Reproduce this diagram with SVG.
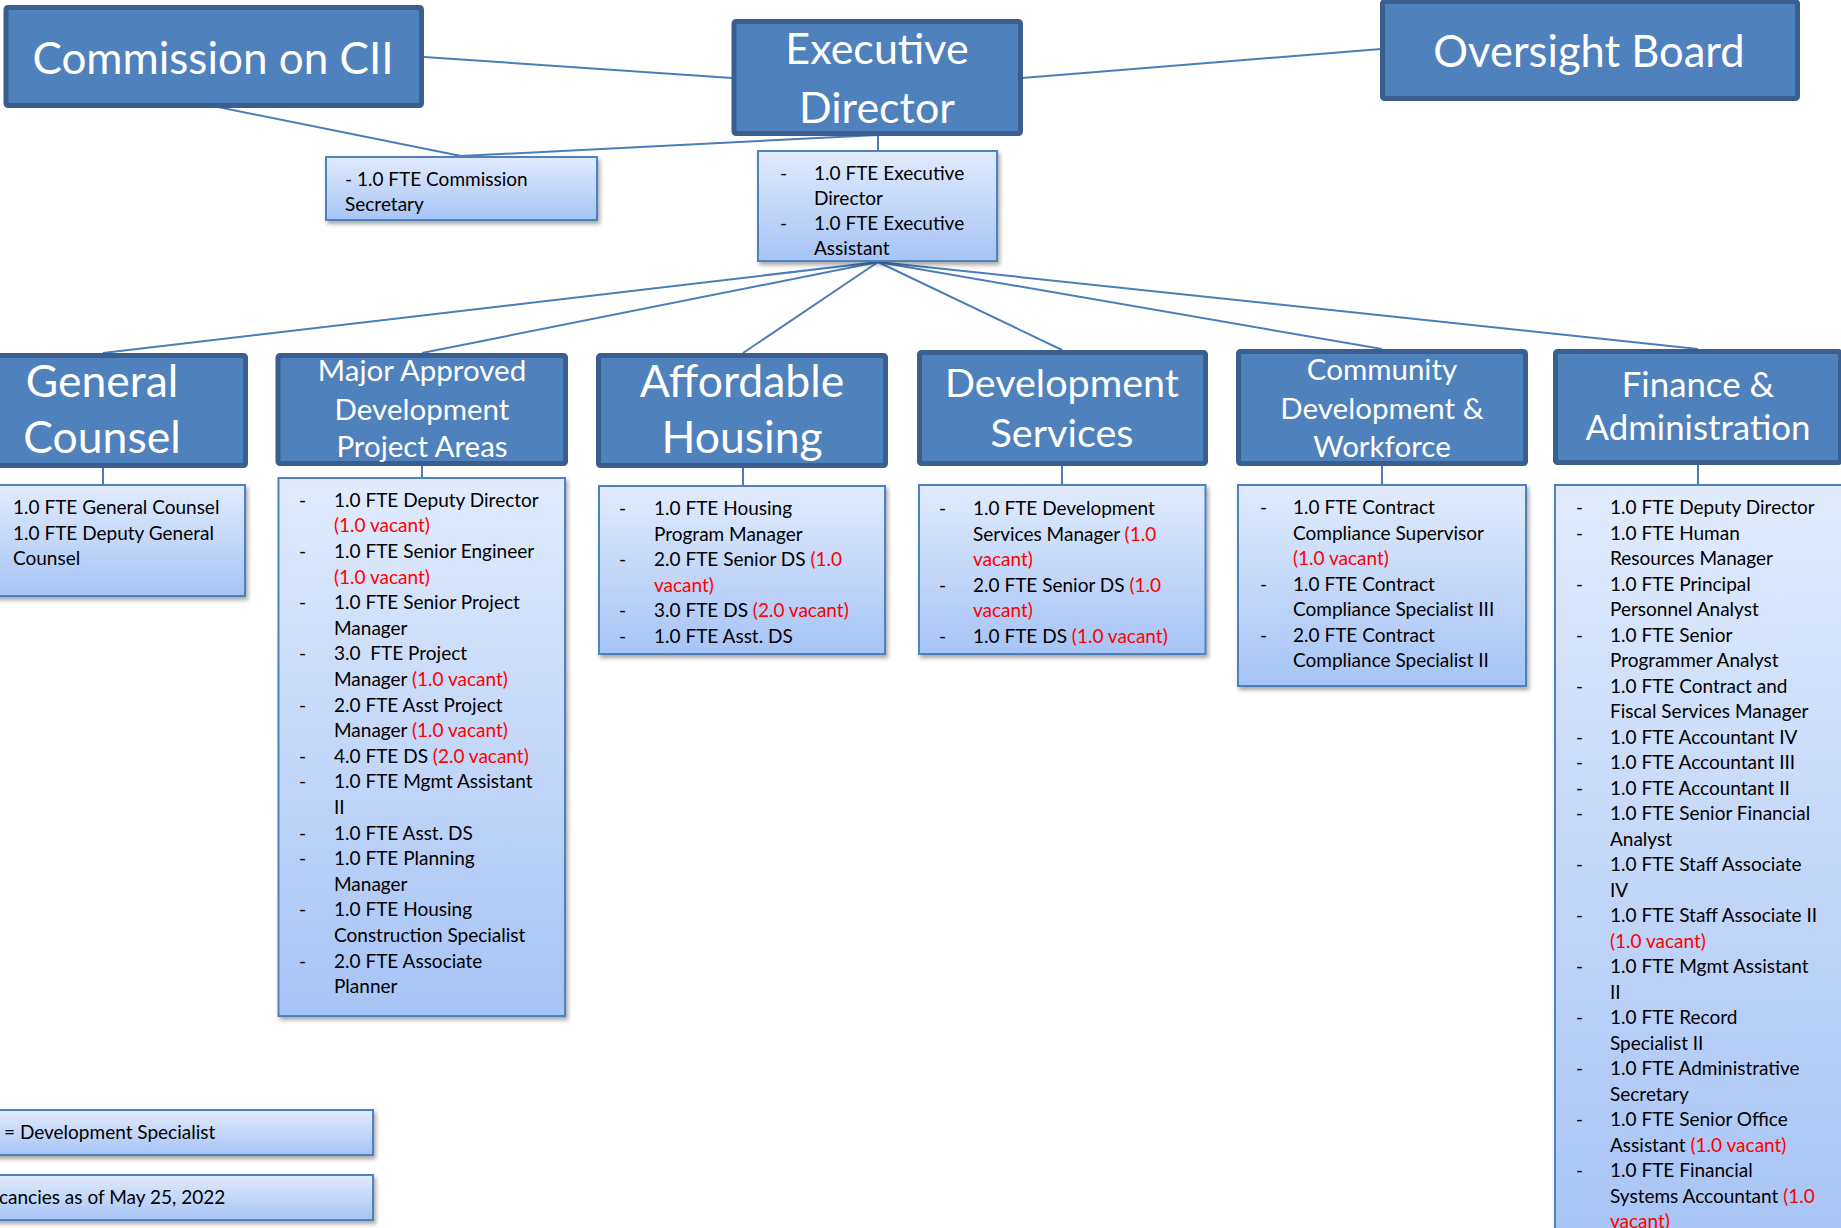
<svg xmlns="http://www.w3.org/2000/svg" width="1841" height="1228" viewBox="0 0 1841 1228">
<defs>
<linearGradient id="sg" x1="0" y1="0" x2="0" y2="1">
<stop offset="0" stop-color="#e1ebfc"/>
<stop offset="1" stop-color="#a6c4f6"/>
</linearGradient>
<filter id="sh" x="-10%" y="-10%" width="130%" height="130%">
<feDropShadow dx="2" dy="3" stdDeviation="2" flood-color="#000" flood-opacity="0.35"/>
</filter>
<style>
.d{fill:#4f81bd;stroke:#3a5f8e;stroke-width:5}
.s{fill:url(#sg);stroke:#4f81bd;stroke-width:2;filter:url(#sh)}
.c{stroke:#4a7ebb;stroke-width:2;fill:none}
.t{font-family:Lato,"Liberation Sans",sans-serif;fill:#fff;text-anchor:middle}
.b{font-family:Lato,"Liberation Sans",sans-serif;font-size:19px;fill:#000}
.r{fill:#ff0000}
</style>
</defs>
<rect width="1841" height="1228" fill="#fff"/>
<g id="connectors">
<line class="c" x1="424" y1="57" x2="732" y2="78"/>
<line class="c" x1="1022" y1="78" x2="1381" y2="49"/>
<line class="c" x1="213" y1="106" x2="461" y2="156"/>
<line class="c" x1="461" y1="156" x2="878" y2="135"/>
<line class="c" x1="878" y1="136" x2="878" y2="150"/>
<line class="c" x1="878" y1="262" x2="103" y2="353"/>
<line class="c" x1="878" y1="262" x2="422" y2="353"/>
<line class="c" x1="878" y1="262" x2="743" y2="353"/>
<line class="c" x1="878" y1="262" x2="1062" y2="350"/>
<line class="c" x1="878" y1="262" x2="1382" y2="349"/>
<line class="c" x1="878" y1="262" x2="1698" y2="349"/>
<line class="c" x1="103" y1="468" x2="103" y2="484"/>
<line class="c" x1="422" y1="466" x2="422" y2="477"/>
<line class="c" x1="743" y1="468" x2="743" y2="485"/>
<line class="c" x1="1062" y1="466" x2="1062" y2="484"/>
<line class="c" x1="1382" y1="466" x2="1382" y2="484"/>
<line class="c" x1="1698" y1="465" x2="1698" y2="484"/>
</g>
<g id="commission">
<rect class="d" x="6" y="7.5" width="415.5" height="98" rx="2"/>
<text class="t" x="213" y="74" font-size="44">Commission on CII</text>
</g>
<g id="executive-director">
<rect class="d" x="734" y="21.5" width="286.5" height="112" rx="2"/>
<text class="t" x="877" y="64" font-size="43">Executive</text>
<text class="t" x="877" y="123" font-size="43">Director</text>
</g>
<g id="oversight-board">
<rect class="d" x="1382.5" y="1.5" width="415" height="97" rx="2"/>
<text class="t" x="1589" y="67" font-size="43.5">Oversight Board</text>
</g>
<g id="commission-secretary">
<rect class="s" x="326" y="157" width="271" height="63"/>
<text class="b" x="345" y="186">- 1.0 FTE Commission</text>
<text class="b" x="345" y="211">Secretary</text>
</g>
<g id="executive-staff">
<rect class="s" x="758" y="151" width="239" height="110"/>
<text class="b" x="780" y="180">-</text><text class="b" x="814" y="180">1.0 FTE Executive</text>
<text class="b" x="814" y="205">Director</text>
<text class="b" x="780" y="230">-</text><text class="b" x="814" y="230">1.0 FTE Executive</text>
<text class="b" x="814" y="255">Assistant</text>
</g>
<g id="general-counsel">
<rect class="d" x="-41.5" y="355.5" width="287" height="110" rx="2"/>
<text class="t" x="102" y="397" font-size="44.5">General</text>
<text class="t" x="102" y="453" font-size="44.5">Counsel</text>
</g>
<g id="general-counsel-staff">
<rect class="s" x="-10" y="485" width="255" height="111"/>
<text class="b" x="13" y="514">1.0 FTE General Counsel</text>
<text class="b" x="13" y="540">1.0 FTE Deputy General</text>
<text class="b" x="13" y="565">Counsel</text>
</g>
<g id="major-approved">
<rect class="d" x="278" y="355.5" width="287.5" height="108" rx="2"/>
<text class="t" x="422" y="380.5" font-size="29.5">Major Approved</text>
<text class="t" x="422" y="419.5" font-size="29.5">Development</text>
<text class="t" x="422" y="457" font-size="29.5">Project Areas</text>
</g>
<g id="major-approved-staff">
<rect class="s" x="278.5" y="478" width="286.5" height="538"/>
<g class="b">
<text x="299" y="506.7">-</text><text x="334" y="506.7">1.0 FTE Deputy Director</text>
<text x="334" y="532.3" class="r">(1.0 vacant)</text>
<text x="299" y="557.9">-</text><text x="334" y="557.9">1.0 FTE Senior Engineer</text>
<text x="334" y="583.5" class="r">(1.0 vacant)</text>
<text x="299" y="609.1">-</text><text x="334" y="609.1">1.0 FTE Senior Project</text>
<text x="334" y="634.7">Manager</text>
<text x="299" y="660.3">-</text><text x="334" y="660.3" xml:space="preserve">3.0  FTE Project</text>
<text x="334" y="685.9">Manager <tspan class="r">(1.0 vacant)</tspan></text>
<text x="299" y="711.5">-</text><text x="334" y="711.5">2.0 FTE Asst Project</text>
<text x="334" y="737.1">Manager <tspan class="r">(1.0 vacant)</tspan></text>
<text x="299" y="762.7">-</text><text x="334" y="762.7">4.0 FTE DS <tspan class="r">(2.0 vacant)</tspan></text>
<text x="299" y="788.3">-</text><text x="334" y="788.3">1.0 FTE Mgmt Assistant</text>
<text x="334" y="813.9">II</text>
<text x="299" y="839.5">-</text><text x="334" y="839.5">1.0 FTE Asst. DS</text>
<text x="299" y="865.1">-</text><text x="334" y="865.1">1.0 FTE Planning</text>
<text x="334" y="890.7">Manager</text>
<text x="299" y="916.3">-</text><text x="334" y="916.3">1.0 FTE Housing</text>
<text x="334" y="941.9">Construction Specialist</text>
<text x="299" y="967.5">-</text><text x="334" y="967.5">2.0 FTE Associate</text>
<text x="334" y="993.1">Planner</text>
</g>
</g>
<g id="affordable-housing">
<rect class="d" x="598.5" y="355.5" width="287" height="110" rx="2"/>
<text class="t" x="742" y="397" font-size="44.5">Affordable</text>
<text class="t" x="742" y="453" font-size="44.5">Housing</text>
</g>
<g id="affordable-housing-staff">
<rect class="s" x="599" y="486" width="286" height="168"/>
<g class="b">
<text x="619" y="515">-</text><text x="654" y="515">1.0 FTE Housing</text>
<text x="654" y="540.5">Program Manager</text>
<text x="619" y="566">-</text><text x="654" y="566">2.0 FTE Senior DS <tspan class="r">(1.0</tspan></text>
<text x="654" y="591.5" class="r">vacant)</text>
<text x="619" y="617">-</text><text x="654" y="617">3.0 FTE DS <tspan class="r">(2.0 vacant)</tspan></text>
<text x="619" y="642.5">-</text><text x="654" y="642.5">1.0 FTE Asst. DS</text>
</g>
</g>
<g id="development-services">
<rect class="d" x="919.5" y="352.5" width="286" height="111" rx="2"/>
<text class="t" x="1062" y="397" font-size="39.5">Development</text>
<text class="t" x="1062" y="447" font-size="39.5">Services</text>
</g>
<g id="development-services-staff">
<rect class="s" x="919" y="485" width="286.5" height="169"/>
<g class="b">
<text x="939" y="515">-</text><text x="973" y="515">1.0 FTE Development</text>
<text x="973" y="540.5">Services Manager <tspan class="r">(1.0</tspan></text>
<text x="973" y="566" class="r">vacant)</text>
<text x="939" y="591.5">-</text><text x="973" y="591.5">2.0 FTE Senior DS <tspan class="r">(1.0</tspan></text>
<text x="973" y="617" class="r">vacant)</text>
<text x="939" y="642.5">-</text><text x="973" y="642.5">1.0 FTE DS <tspan class="r">(1.0 vacant)</tspan></text>
</g>
</g>
<g id="community-development">
<rect class="d" x="1238.5" y="351.5" width="287" height="112" rx="2"/>
<text class="t" x="1382" y="380" font-size="29.5">Community</text>
<text class="t" x="1382" y="419" font-size="29.5">Development &amp;</text>
<text class="t" x="1382" y="457" font-size="29.5">Workforce</text>
</g>
<g id="community-development-staff">
<rect class="s" x="1238" y="485" width="288" height="201"/>
<g class="b">
<text x="1260" y="514">-</text><text x="1293" y="514">1.0 FTE Contract</text>
<text x="1293" y="539.5">Compliance Supervisor</text>
<text x="1293" y="565" class="r">(1.0 vacant)</text>
<text x="1260" y="590.5">-</text><text x="1293" y="590.5">1.0 FTE Contract</text>
<text x="1293" y="616">Compliance Specialist III</text>
<text x="1260" y="641.5">-</text><text x="1293" y="641.5">2.0 FTE Contract</text>
<text x="1293" y="667">Compliance Specialist II</text>
</g>
</g>
<g id="finance-administration">
<rect class="d" x="1555.5" y="351.5" width="285" height="111" rx="2"/>
<text class="t" x="1698" y="397" font-size="34.8">Finance &amp;</text>
<text class="t" x="1698" y="440" font-size="34.8">Administration</text>
</g>
<g id="finance-administration-staff">
<rect class="s" x="1555" y="485" width="300" height="760"/>
<g class="b">
<text x="1576" y="514">-</text><text x="1610" y="514">1.0 FTE Deputy Director</text>
<text x="1576" y="539.5">-</text><text x="1610" y="539.5">1.0 FTE Human</text>
<text x="1610" y="565">Resources Manager</text>
<text x="1576" y="590.5">-</text><text x="1610" y="590.5">1.0 FTE Principal</text>
<text x="1610" y="616">Personnel Analyst</text>
<text x="1576" y="641.5">-</text><text x="1610" y="641.5">1.0 FTE Senior</text>
<text x="1610" y="667">Programmer Analyst</text>
<text x="1576" y="692.5">-</text><text x="1610" y="692.5">1.0 FTE Contract and</text>
<text x="1610" y="718">Fiscal Services Manager</text>
<text x="1576" y="743.5">-</text><text x="1610" y="743.5">1.0 FTE Accountant IV</text>
<text x="1576" y="769">-</text><text x="1610" y="769">1.0 FTE Accountant III</text>
<text x="1576" y="794.5">-</text><text x="1610" y="794.5">1.0 FTE Accountant II</text>
<text x="1576" y="820">-</text><text x="1610" y="820">1.0 FTE Senior Financial</text>
<text x="1610" y="845.5">Analyst</text>
<text x="1576" y="871">-</text><text x="1610" y="871">1.0 FTE Staff Associate</text>
<text x="1610" y="896.5">IV</text>
<text x="1576" y="922">-</text><text x="1610" y="922">1.0 FTE Staff Associate II</text>
<text x="1610" y="947.5" class="r">(1.0 vacant)</text>
<text x="1576" y="973">-</text><text x="1610" y="973">1.0 FTE Mgmt Assistant</text>
<text x="1610" y="998.5">II</text>
<text x="1576" y="1024">-</text><text x="1610" y="1024">1.0 FTE Record</text>
<text x="1610" y="1049.5">Specialist II</text>
<text x="1576" y="1075">-</text><text x="1610" y="1075">1.0 FTE Administrative</text>
<text x="1610" y="1100.5">Secretary</text>
<text x="1576" y="1126">-</text><text x="1610" y="1126">1.0 FTE Senior Office</text>
<text x="1610" y="1151.5">Assistant <tspan class="r">(1.0 vacant)</tspan></text>
<text x="1576" y="1177">-</text><text x="1610" y="1177">1.0 FTE Financial</text>
<text x="1610" y="1202.5">Systems Accountant <tspan class="r">(1.0</tspan></text>
<text x="1610" y="1228" class="r">vacant)</text>
</g>
</g>
<g id="legend-ds">
<rect class="s" x="-10" y="1110" width="383" height="45"/>
<text class="b" x="4" y="1139">= Development Specialist</text>
</g>
<g id="legend-vacancies">
<rect class="s" x="-10" y="1175" width="383" height="45"/>
<text class="b" x="-1" y="1204">cancies as of May 25, 2022</text>
</g>
</svg>
